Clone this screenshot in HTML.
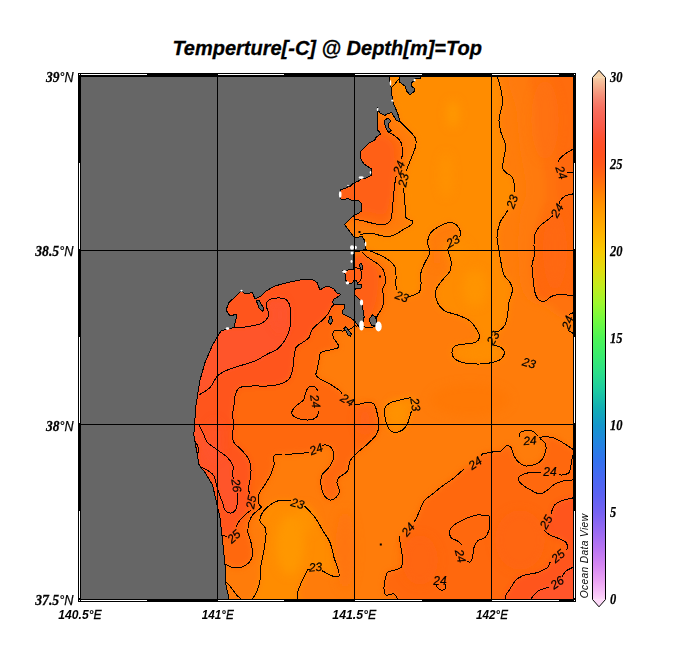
<!DOCTYPE html>
<html lang="en"><head><meta charset="utf-8"><title>Temperture[-C] @ Depth[m]=Top</title>
<style>
html,body{margin:0;padding:0;background:#fff;}
body{width:684px;height:660px;overflow:hidden;}
svg{display:block;}
.ss{font-family:"Liberation Sans",Arial,Helvetica,sans-serif;}
.sf{font-family:"Liberation Serif","Times New Roman",Times,serif;}
.bi{font-weight:bold;font-style:italic;}
.it{font-style:italic;}
</style></head><body>
<svg width="684" height="660" viewBox="0 0 684 660">
<defs>
<clipPath id="mapclip"><rect x="81" y="77" width="492" height="522"/></clipPath>
<filter id="blur" x="-5%" y="-5%" width="110%" height="110%"><feGaussianBlur stdDeviation="3.2"/></filter>
<filter id="blob" x="-50%" y="-50%" width="200%" height="200%"><feGaussianBlur stdDeviation="5"/></filter>
<linearGradient id="cb" x1="0" y1="0" x2="0" y2="1">
<stop offset="0.0000" stop-color="#F6D2AA"/>
<stop offset="0.0067" stop-color="#F5C09C"/>
<stop offset="0.0167" stop-color="#F5AE8E"/>
<stop offset="0.0267" stop-color="#F59C82"/>
<stop offset="0.0367" stop-color="#F58C76"/>
<stop offset="0.0467" stop-color="#F67E6C"/>
<stop offset="0.0567" stop-color="#F77262"/>
<stop offset="0.0667" stop-color="#F86A5A"/>
<stop offset="0.0833" stop-color="#F96050"/>
<stop offset="0.1000" stop-color="#FB5842"/>
<stop offset="0.1167" stop-color="#FE5230"/>
<stop offset="0.1333" stop-color="#FF5026"/>
<stop offset="0.1500" stop-color="#FF521E"/>
<stop offset="0.1667" stop-color="#FF581A"/>
<stop offset="0.1833" stop-color="#FF6214"/>
<stop offset="0.2000" stop-color="#FF6E0E"/>
<stop offset="0.2167" stop-color="#FF7C06"/>
<stop offset="0.2333" stop-color="#FF8A02"/>
<stop offset="0.2500" stop-color="#FF9600"/>
<stop offset="0.2667" stop-color="#FFA000"/>
<stop offset="0.3000" stop-color="#FEB400"/>
<stop offset="0.3333" stop-color="#F8CA02"/>
<stop offset="0.3667" stop-color="#E2DC0E"/>
<stop offset="0.4000" stop-color="#C2EC1E"/>
<stop offset="0.4333" stop-color="#9CF82E"/>
<stop offset="0.4667" stop-color="#70FA40"/>
<stop offset="0.5000" stop-color="#4CF456"/>
<stop offset="0.5333" stop-color="#38EC6E"/>
<stop offset="0.5667" stop-color="#2ADE8A"/>
<stop offset="0.6000" stop-color="#1CCAA2"/>
<stop offset="0.6333" stop-color="#12AEB4"/>
<stop offset="0.6667" stop-color="#1496CC"/>
<stop offset="0.7000" stop-color="#2284E0"/>
<stop offset="0.7333" stop-color="#3272EE"/>
<stop offset="0.7667" stop-color="#4868F2"/>
<stop offset="0.8000" stop-color="#5C62F2"/>
<stop offset="0.8333" stop-color="#7662F2"/>
<stop offset="0.8667" stop-color="#966AF2"/>
<stop offset="0.9000" stop-color="#B674F2"/>
<stop offset="0.9333" stop-color="#D486F2"/>
<stop offset="0.9667" stop-color="#ECA6F4"/>
<stop offset="0.9900" stop-color="#F8C6F8"/>
<stop offset="1.0000" stop-color="#FCD8F8"/>
</linearGradient>
</defs>
<rect width="684" height="660" fill="#fff"/>
<text class="ss bi" x="172.4" y="55" font-size="20" textLength="309.5" lengthAdjust="spacingAndGlyphs" fill="#000" stroke="#000" stroke-width="0.3">Temperture[-C] @ Depth[m]=Top</text>
<g clip-path="url(#mapclip)">
<rect x="78" y="73" width="498" height="529" fill="#FF7C0A"/>
<g filter="url(#blur)">
<path d="M389.0 70.0C407.1 68.8 479.4 68.8 497.5 70.0C515.6 71.2 496.9 73.7 497.5 77.0C498.1 80.3 500.2 85.8 501.0 90.0C501.8 94.2 502.8 97.5 502.5 102.5C502.2 107.5 499.2 115.0 499.0 120.0C498.8 125.0 499.9 128.3 501.0 132.5C502.1 136.7 505.0 140.8 505.5 145.0C506.0 149.2 504.5 153.8 504.0 157.5C503.5 161.2 502.2 165.0 502.5 167.5C502.8 170.0 504.3 170.8 506.0 172.5C507.7 174.2 511.1 175.0 512.5 177.5C513.9 180.0 514.5 183.3 514.5 187.5C514.5 191.7 514.0 198.1 512.5 202.5C511.0 206.9 507.6 210.7 505.5 214.0C503.4 217.3 501.4 218.6 500.0 222.5C498.6 226.4 497.2 232.9 497.0 237.5C496.8 242.1 498.3 245.8 499.0 250.0C499.7 254.2 500.2 258.3 501.0 262.5C501.8 266.7 502.5 271.7 504.0 275.0C505.5 278.3 508.6 280.0 510.0 282.5C511.4 285.0 512.7 286.7 512.5 290.0C512.3 293.3 509.8 298.3 509.0 302.5C508.2 306.7 508.2 311.2 507.5 315.0C506.8 318.8 506.4 322.3 505.0 325.0C503.6 327.7 500.8 327.7 499.0 331.0C497.2 334.3 493.7 342.2 494.0 345.0C494.3 347.8 499.2 346.2 501.0 347.5C502.8 348.8 504.5 350.6 504.5 352.5C504.5 354.4 503.0 357.3 501.0 359.0C499.0 360.7 496.0 361.7 492.5 362.5C489.0 363.3 484.6 363.9 480.0 364.0C475.4 364.1 469.2 363.8 465.0 363.0C460.8 362.2 457.2 360.8 455.0 359.0C452.8 357.2 452.0 354.7 452.0 352.5C452.0 350.3 452.8 347.4 455.0 346.0C457.2 344.6 461.7 344.6 465.0 344.0C468.3 343.4 472.6 343.6 475.0 342.5C477.4 341.4 479.1 339.4 479.5 337.5C479.9 335.6 479.1 333.8 477.5 331.0C475.9 328.2 473.3 323.7 470.0 321.0C466.7 318.3 461.7 316.7 457.5 315.0C453.3 313.3 448.3 313.1 445.0 311.0C441.7 308.9 439.0 306.0 437.5 302.5C436.0 299.0 435.2 293.8 436.0 290.0C436.8 286.2 440.2 283.2 442.5 280.0C444.8 276.8 448.6 274.2 450.0 271.0C451.4 267.8 451.3 264.3 451.0 261.0C450.7 257.7 447.7 254.3 448.0 251.0C448.3 247.7 450.8 243.8 453.0 241.0C455.2 238.2 460.2 236.5 461.0 234.0C461.8 231.5 459.3 227.9 457.5 226.0C455.7 224.1 452.9 222.5 450.0 222.5C447.1 222.5 443.2 224.3 440.0 226.0C436.8 227.7 433.1 229.8 431.0 232.5C428.9 235.2 427.7 239.2 427.5 242.5C427.3 245.8 430.4 249.2 430.0 252.5C429.6 255.8 426.5 259.2 425.0 262.5C423.5 265.8 421.7 268.8 421.0 272.5C420.3 276.2 421.3 281.7 421.0 285.0C420.7 288.3 420.7 290.7 419.0 292.5C417.3 294.3 413.8 295.3 411.0 296.0C408.2 296.7 404.3 297.6 402.0 296.5C399.7 295.4 398.0 291.2 397.0 289.5C396.0 287.8 396.2 288.4 396.0 286.0C395.8 283.6 396.2 278.2 396.0 275.0C395.8 271.8 395.9 269.2 395.0 267.0C394.1 264.8 392.5 263.3 390.7 261.7C388.9 260.1 386.5 258.6 384.4 257.4C382.3 256.1 380.1 255.2 378.0 254.2C375.9 253.2 373.7 252.4 371.7 251.6C369.7 250.8 368.6 250.1 365.8 249.5C363.0 248.9 356.8 250.2 355.0 248.0C353.2 245.8 354.2 238.2 355.0 236.0C355.8 233.8 358.3 235.4 360.0 235.0C361.7 234.6 363.2 233.6 365.3 233.3C367.4 233.0 370.2 233.0 372.7 233.3C375.1 233.7 377.5 234.9 380.0 235.4C382.5 235.9 385.1 236.6 387.6 236.5C390.1 236.4 392.5 235.7 395.0 234.6C397.5 233.5 399.8 231.6 402.5 230.0C405.2 228.4 409.3 226.5 411.0 225.0C412.7 223.5 413.3 222.2 412.5 221.0C411.7 219.8 407.2 220.2 406.0 217.5C404.8 214.8 405.3 209.2 405.0 205.0C404.7 200.8 404.1 196.7 404.0 192.5C403.9 188.3 403.9 184.2 404.5 180.0C405.1 175.8 406.2 171.7 407.5 167.5C408.8 163.3 411.1 158.8 412.5 155.0C413.9 151.2 415.6 147.9 416.0 145.0C416.4 142.1 416.4 140.2 415.0 137.5C413.6 134.8 410.0 131.7 407.5 129.0C405.0 126.3 401.9 125.0 399.8 121.3C397.7 117.6 396.3 111.7 395.0 107.0C393.7 102.3 393.0 98.0 392.0 93.0C391.0 88.0 389.5 80.8 389.0 77.0C388.5 73.2 370.9 71.2 389.0 70.0Z" fill="#FF8C02"/>
<path d="M411.0 397.5C408.5 396.8 403.5 399.1 400.0 400.0C396.5 400.9 392.6 401.5 390.0 403.0C387.4 404.5 385.2 406.2 384.5 409.0C383.8 411.8 384.8 416.7 385.5 420.0C386.2 423.3 387.4 426.9 389.0 429.0C390.6 431.1 392.8 432.3 395.0 432.5C397.2 432.7 400.4 431.4 402.5 430.0C404.6 428.6 406.2 426.7 407.5 424.0C408.8 421.3 409.2 417.3 410.5 414.0C411.8 410.7 414.9 406.8 415.0 404.0C415.1 401.2 413.5 398.2 411.0 397.5Z" fill="#FF8C02"/>
<path d="M252.5 606.0C245.0 604.8 251.7 601.7 252.5 599.0C253.3 596.3 256.2 593.2 257.5 590.0C258.8 586.8 259.4 584.2 260.0 580.0C260.6 575.8 260.3 570.0 261.0 565.0C261.7 560.0 263.2 555.0 264.0 550.0C264.8 545.0 265.8 538.8 266.0 535.0C266.2 531.2 266.0 529.8 265.0 527.5C264.0 525.2 260.4 523.5 260.0 521.0C259.6 518.5 260.8 515.2 262.5 512.5C264.2 509.8 267.5 506.9 270.0 505.0C272.5 503.1 274.6 501.8 277.5 501.0C280.4 500.2 284.2 500.2 287.5 500.5C290.8 500.8 293.9 501.8 297.0 503.0C300.1 504.2 303.0 505.1 306.0 507.5C309.0 509.9 312.2 513.8 315.0 517.5C317.8 521.2 320.0 525.8 322.5 530.0C325.0 534.2 328.1 537.9 330.0 542.5C331.9 547.1 332.8 553.3 334.0 557.5C335.2 561.7 336.7 564.4 337.5 567.5C338.3 570.6 339.8 574.6 339.0 576.0C338.2 577.4 335.2 576.8 332.5 576.0C329.8 575.2 325.4 572.5 322.5 571.0C319.6 569.5 317.5 567.2 315.0 567.0C312.5 566.8 309.6 567.8 307.5 570.0C305.4 572.2 304.2 576.2 302.5 580.0C300.8 583.8 298.3 588.2 297.5 592.5C296.7 596.8 305.0 603.8 297.5 606.0C290.0 608.2 260.0 607.2 252.5 606.0Z" fill="#FF8C02"/>
<path d="M512.0 70.0C522.7 63.3 568.7 31.7 580.0 70.0C591.3 108.3 586.7 260.8 580.0 300.0C573.3 339.2 549.7 306.7 540.0 305.0C530.3 303.3 525.7 299.2 522.0 290.0C518.3 280.8 518.3 262.5 518.0 250.0C517.7 237.5 518.7 225.0 520.0 215.0C521.3 205.0 526.0 200.8 526.0 190.0C526.0 179.2 521.7 163.3 520.0 150.0C518.3 136.7 517.3 123.3 516.0 110.0C514.7 96.7 501.3 76.7 512.0 70.0Z" fill="#FF7A08"/>
<path d="M532.0 70.0C539.3 63.3 572.0 31.7 580.0 70.0C588.0 108.3 585.8 261.7 580.0 300.0C574.2 338.3 552.7 303.3 545.0 300.0C537.3 296.7 536.0 290.0 534.0 280.0C532.0 270.0 532.0 250.8 533.0 240.0C534.0 229.2 538.0 223.3 540.0 215.0C542.0 206.7 545.0 200.8 545.0 190.0C545.0 179.2 541.5 163.3 540.0 150.0C538.5 136.7 537.3 123.3 536.0 110.0C534.7 96.7 524.7 76.7 532.0 70.0Z" fill="#FF720C"/>
<path d="M552.0 70.0C556.3 63.3 575.3 48.3 580.0 70.0C584.7 91.7 583.3 178.3 580.0 200.0C576.7 221.7 564.0 203.3 560.0 200.0C556.0 196.7 556.7 188.3 556.0 180.0C555.3 171.7 556.3 161.7 556.0 150.0C555.7 138.3 554.7 123.3 554.0 110.0C553.3 96.7 547.7 76.7 552.0 70.0Z" fill="#FF6C10"/>
<path d="M357.0 326.5C355.7 327.4 355.3 325.3 354.2 325.7C353.1 326.1 352.4 328.0 350.5 328.9C348.6 329.8 345.5 330.8 343.0 331.0C340.5 331.2 337.3 330.1 335.6 330.4C333.9 330.7 333.4 331.7 333.0 333.0C332.6 334.3 332.8 336.2 333.5 338.0C334.2 339.8 336.7 341.9 337.5 343.5C338.3 345.1 339.8 346.4 338.5 347.5C337.2 348.6 332.9 349.2 330.0 350.0C327.1 350.8 322.8 350.8 321.0 352.5C319.2 354.2 319.7 357.1 319.0 360.0C318.3 362.9 317.5 367.5 317.0 370.0C316.5 372.5 315.5 373.5 316.0 375.0C316.5 376.5 317.7 377.5 320.0 379.0C322.3 380.5 326.7 382.0 330.0 384.0C333.3 386.0 337.2 388.3 340.0 391.0C342.8 393.7 344.1 397.8 347.0 400.0C349.9 402.2 354.1 404.1 357.5 404.5C360.9 404.9 364.8 402.6 367.5 402.5C370.2 402.4 372.4 402.3 374.0 404.0C375.6 405.7 376.2 409.0 377.0 412.5C377.8 416.0 379.2 421.2 379.0 425.0C378.8 428.8 377.9 431.8 376.0 435.0C374.1 438.2 370.6 441.1 367.5 444.0C364.4 446.9 360.4 449.7 357.5 452.5C354.6 455.3 351.7 457.9 350.0 461.0C348.3 464.1 349.3 468.2 347.5 471.0C345.7 473.8 340.8 475.6 339.0 477.5C337.2 479.4 336.9 480.2 337.0 482.5C337.1 484.8 339.7 488.5 339.5 491.0C339.3 493.5 337.6 496.0 336.0 497.5C334.4 499.0 332.0 500.4 330.0 500.0C328.0 499.6 325.5 497.5 324.0 495.0C322.5 492.5 321.3 488.3 321.0 485.0C320.7 481.7 320.5 478.2 322.0 475.0C323.5 471.8 328.0 469.3 330.0 466.0C332.0 462.7 333.8 458.1 334.0 455.0C334.2 451.9 332.3 449.2 331.0 447.5C329.7 445.8 328.5 444.8 326.0 445.0C323.5 445.2 318.8 447.8 316.0 449.0C313.2 450.2 315.8 451.5 309.0 452.5C302.2 453.5 280.8 452.9 275.0 455.0C269.2 457.1 274.8 461.5 274.0 465.0C273.2 468.5 271.7 472.5 270.0 476.0C268.3 479.5 265.8 483.0 264.0 486.0C262.2 489.0 259.8 491.0 259.0 494.0C258.2 497.0 258.7 501.8 259.0 504.0C259.3 506.2 262.1 505.7 261.0 507.5C259.9 509.3 254.5 512.5 252.5 515.0C250.5 517.5 249.8 519.6 249.0 522.5C248.2 525.4 247.7 529.2 248.0 532.5C248.3 535.8 250.2 538.8 251.0 542.5C251.8 546.2 252.8 551.7 252.5 555.0C252.2 558.3 250.9 560.4 249.0 562.5C247.1 564.6 243.8 566.7 241.0 567.5C238.2 568.3 235.2 568.1 232.5 567.5C229.8 566.9 233.8 564.6 225.0 564.0C216.2 563.4 187.5 613.0 180.0 564.0C172.5 515.0 152.5 319.0 180.0 270.0C207.5 221.0 315.0 265.0 345.0 270.0C375.0 275.0 357.2 291.7 360.0 300.0C362.8 308.3 362.5 315.6 362.0 320.0C361.5 324.4 358.3 325.6 357.0 326.5Z" fill="#FF6710"/>
<path d="M388.6 132.3C390.3 135.0 392.9 134.3 395.0 136.0C397.1 137.7 399.8 139.8 401.0 142.5C402.2 145.2 402.4 149.8 402.5 152.5C402.6 155.2 402.0 156.5 401.5 159.0C401.0 161.5 400.2 164.7 399.5 167.5C398.8 170.3 397.6 173.9 397.0 176.0C396.4 178.1 396.3 176.8 396.0 180.0C395.7 183.2 395.6 190.0 395.0 195.0C394.4 200.0 393.1 206.2 392.5 210.0C391.9 213.8 391.9 215.9 391.3 218.0C390.7 220.1 390.1 221.6 388.6 222.7C387.1 223.8 385.0 224.7 382.3 224.8C379.6 224.9 376.1 224.0 372.7 223.3C369.3 222.6 365.0 221.3 362.0 220.6C359.0 219.9 358.4 219.3 354.7 219.0C351.0 218.7 343.3 223.8 340.0 219.0C336.7 214.2 332.5 201.5 335.0 190.0C337.5 178.5 348.3 160.8 355.0 150.0C361.7 139.2 370.0 130.0 375.0 125.0C380.0 120.0 382.7 118.8 385.0 120.0C387.3 121.2 386.9 129.6 388.6 132.3Z" fill="#FF6710"/>
<path d="M362.0 252.0C364.7 251.4 364.6 255.0 366.4 256.4C368.2 257.8 370.6 259.2 372.7 260.6C374.8 262.0 377.2 263.2 379.0 264.8C380.8 266.4 382.3 268.1 383.3 270.0C384.3 271.9 384.7 274.1 385.0 276.4C385.3 278.7 385.4 281.7 385.0 283.8C384.6 285.9 383.1 287.1 382.8 289.0C382.5 290.9 383.2 293.0 383.3 295.5C383.4 298.0 383.6 301.8 383.3 304.0C383.0 306.2 382.6 307.2 381.7 309.0C380.8 310.8 378.9 312.9 378.0 314.5C377.1 316.1 376.6 317.1 376.4 318.8C376.2 320.6 377.8 323.6 377.0 325.0C376.2 326.4 373.5 326.9 371.7 327.3C369.9 327.7 367.8 327.5 366.4 327.3C365.0 327.1 365.1 327.2 363.2 326.0C361.3 324.8 358.0 326.0 355.0 320.0C352.0 314.0 345.8 300.0 345.0 290.0C344.2 280.0 347.2 266.3 350.0 260.0C352.8 253.7 359.3 252.6 362.0 252.0Z" fill="#FF6710"/>
<path d="M572.5 149.5C570.0 150.3 567.1 152.4 565.0 154.0C562.9 155.6 561.0 157.3 560.0 159.0C559.0 160.7 558.8 161.8 559.0 164.0C559.2 166.2 560.2 170.8 561.5 172.5C562.8 174.2 565.2 173.8 567.0 174.0C568.8 174.2 570.3 173.6 572.5 173.5C574.7 173.4 578.8 177.6 580.0 173.5C581.2 169.4 581.2 153.0 580.0 149.0C578.8 145.0 575.0 148.7 572.5 149.5Z" fill="#FF6710"/>
<path d="M572.5 194.0C570.0 194.3 567.1 194.8 565.0 196.0C562.9 197.2 561.3 198.6 560.0 201.0C558.7 203.4 558.2 208.0 557.0 210.5C555.8 213.0 554.1 214.4 552.5 216.0C550.9 217.6 549.6 218.3 547.5 220.0C545.4 221.7 542.1 223.7 540.0 226.0C537.9 228.3 536.0 230.8 535.0 234.0C534.0 237.2 534.1 241.5 534.0 245.0C533.9 248.5 534.8 251.7 534.5 255.0C534.2 258.3 532.2 261.2 532.0 265.0C531.8 268.8 532.5 272.9 533.0 277.5C533.5 282.1 534.0 288.8 535.0 292.5C536.0 296.2 537.3 298.6 539.0 300.0C540.7 301.4 542.8 301.7 545.0 301.0C547.2 300.3 549.6 297.1 552.5 296.0C555.4 294.9 559.2 294.5 562.5 294.5C565.8 294.5 569.6 295.8 572.5 296.0C575.4 296.2 578.8 313.0 580.0 296.0C581.2 279.0 581.2 211.0 580.0 194.0C578.8 177.0 575.0 193.7 572.5 194.0Z" fill="#FF6710"/>
<path d="M397.5 606.0C367.1 604.8 398.1 601.0 397.5 599.0C396.9 597.0 395.9 594.7 394.0 594.0C392.1 593.3 387.7 595.8 386.0 595.0C384.3 594.2 384.2 591.5 384.0 589.0C383.8 586.5 384.4 582.8 385.0 580.0C385.6 577.2 385.8 574.2 387.5 572.5C389.2 570.8 392.8 570.8 395.0 570.0C397.2 569.2 399.8 569.3 401.0 567.5C402.2 565.7 402.5 562.3 402.5 559.0C402.5 555.7 401.5 550.8 401.0 547.5C400.5 544.2 398.3 542.0 399.5 539.0C400.7 536.0 405.2 532.8 408.0 529.5C410.8 526.2 414.0 522.2 416.0 519.0C418.0 515.8 418.7 513.0 420.0 510.0C421.3 507.0 421.9 503.7 424.0 501.0C426.1 498.3 429.4 496.5 432.5 494.0C435.6 491.5 439.2 488.5 442.5 486.0C445.8 483.5 448.9 481.8 452.5 479.0C456.1 476.2 460.2 471.7 464.0 469.0C467.8 466.3 471.9 465.5 475.0 463.0C478.1 460.5 479.6 455.8 482.5 454.0C485.4 452.2 489.4 452.5 492.5 452.0C495.6 451.5 498.8 452.0 501.0 451.0C503.2 450.0 504.3 446.6 506.0 446.0C507.7 445.4 509.7 445.8 511.0 447.5C512.3 449.2 512.7 453.5 514.0 456.0C515.3 458.5 517.0 460.8 519.0 462.5C521.0 464.2 523.2 465.8 526.0 466.0C528.8 466.2 533.2 465.2 536.0 464.0C538.8 462.8 540.8 461.5 542.5 459.0C544.2 456.5 545.6 451.7 546.0 449.0C546.4 446.3 546.0 444.9 545.0 443.0C544.0 441.1 538.8 438.4 540.0 437.5C541.2 436.6 548.8 436.7 552.5 437.5C556.2 438.3 559.2 440.6 562.5 442.5C565.8 444.4 569.6 447.9 572.5 449.0C575.4 450.1 578.8 422.8 580.0 449.0C581.2 475.2 610.4 579.8 580.0 606.0C549.6 632.2 427.9 607.2 397.5 606.0Z" fill="#FF6710"/>
<path d="M333.5 305.0C331.1 306.4 331.7 306.8 330.8 308.2C329.9 309.6 329.6 311.5 328.2 313.5C326.8 315.5 325.1 317.4 322.5 320.0C319.9 322.6 314.8 326.1 312.5 329.0C310.2 331.9 310.7 335.2 309.0 337.5C307.3 339.8 304.7 340.8 302.5 342.5C300.3 344.2 297.4 345.0 296.0 347.5C294.6 350.0 294.6 353.8 294.0 357.5C293.4 361.2 293.3 366.4 292.5 370.0C291.7 373.6 291.1 376.7 289.0 379.0C286.9 381.3 283.6 382.8 280.0 384.0C276.4 385.2 272.1 385.7 267.5 386.0C262.9 386.3 257.1 385.8 252.5 386.0C247.9 386.2 242.8 386.2 240.0 387.5C237.2 388.8 236.5 391.1 235.5 394.0C234.5 396.9 234.5 401.5 234.0 405.0C233.5 408.5 232.5 411.7 232.5 415.0C232.5 418.3 234.1 421.7 234.0 425.0C233.9 428.3 232.0 432.1 232.0 435.0C232.0 437.9 232.2 439.8 234.0 442.5C235.8 445.2 240.0 448.1 242.5 451.0C245.0 453.9 247.6 456.8 249.0 460.0C250.4 463.2 250.8 466.7 251.0 470.0C251.2 473.3 250.4 476.8 250.0 480.0C249.6 483.2 248.3 485.3 248.5 489.0C248.7 492.7 251.4 497.8 251.0 502.0C250.6 506.2 247.8 511.0 246.0 514.0C244.2 517.0 241.7 517.8 240.0 520.0C238.3 522.2 237.1 524.2 236.0 527.0C234.9 529.8 235.0 535.4 233.5 537.0C232.0 538.6 229.1 536.8 227.0 536.5C224.9 536.2 228.8 535.2 221.0 535.0C213.2 534.8 186.8 579.2 180.0 535.0C173.2 490.8 153.3 314.2 180.0 270.0C206.7 225.8 312.5 265.0 340.0 270.0C367.5 275.0 346.1 294.2 345.0 300.0C343.9 305.8 335.9 303.6 333.5 305.0Z" fill="#FF541E"/>
<path d="M572.5 498.0C569.6 498.4 565.4 499.4 562.5 500.5C559.6 501.6 556.8 502.8 555.0 504.5C553.2 506.2 552.6 508.9 552.0 510.5C551.4 512.1 552.5 512.1 551.5 514.0C550.5 515.9 547.1 519.2 546.0 522.0C544.9 524.8 544.3 528.8 545.0 531.0C545.7 533.2 547.5 533.7 550.0 535.0C552.5 536.3 557.3 537.8 560.0 539.0C562.7 540.2 564.8 541.1 566.0 542.5C567.2 543.9 567.5 546.2 567.5 547.5C567.5 548.8 567.6 548.6 566.0 550.0C564.4 551.4 560.7 553.9 558.0 556.0C555.3 558.1 551.8 560.6 550.0 562.5C548.2 564.4 549.6 565.8 547.5 567.5C545.4 569.2 541.2 571.2 537.5 572.5C533.8 573.8 528.6 573.8 525.0 575.0C521.4 576.2 518.5 577.7 516.0 580.0C513.5 582.3 511.7 586.5 510.0 589.0C508.3 591.5 506.7 592.2 506.0 595.0C505.3 597.8 493.7 604.2 506.0 606.0C518.3 607.8 567.7 624.0 580.0 606.0C592.3 588.0 581.2 516.0 580.0 498.0C578.8 480.0 575.4 497.6 572.5 498.0Z" fill="#FF541E"/>
<path d="M388.0 140.0C391.7 142.5 393.0 144.2 394.0 150.0C395.0 155.8 394.7 166.7 394.0 175.0C393.3 183.3 391.7 193.5 390.0 200.0C388.3 206.5 387.7 212.0 384.0 214.0C380.3 216.0 375.3 212.3 368.0 212.0C360.7 211.7 344.7 216.5 340.0 212.0C335.3 207.5 337.3 195.3 340.0 185.0C342.7 174.7 350.7 158.3 356.0 150.0C361.3 141.7 366.7 136.7 372.0 135.0C377.3 133.3 384.3 137.5 388.0 140.0Z" fill="#FF6014"/>
<path d="M360.0 256.0C363.7 256.7 369.0 260.8 372.0 264.0C375.0 267.2 377.2 269.8 378.0 275.0C378.8 280.2 377.8 289.2 377.0 295.0C376.2 300.8 374.8 306.2 373.0 310.0C371.2 313.8 369.0 316.7 366.0 318.0C363.0 319.3 358.5 322.7 355.0 318.0C351.5 313.3 345.8 299.7 345.0 290.0C344.2 280.3 347.5 265.7 350.0 260.0C352.5 254.3 356.3 255.3 360.0 256.0Z" fill="#FF6014"/>
<path d="M234.0 328.0C238.2 327.8 240.7 327.7 245.0 327.0C249.3 326.3 256.5 325.2 260.0 324.0C263.5 322.8 264.5 321.7 266.0 320.0C267.5 318.3 269.0 316.5 269.0 314.0C269.0 311.5 265.8 307.4 266.0 305.0C266.2 302.6 267.7 300.7 270.0 299.5C272.3 298.3 277.1 297.8 280.0 298.0C282.9 298.2 285.8 299.0 287.5 301.0C289.2 303.0 290.1 305.6 290.5 310.0C290.9 314.4 290.9 322.5 290.0 327.5C289.1 332.5 287.1 336.4 285.0 340.0C282.9 343.6 280.4 346.7 277.5 349.0C274.6 351.3 271.2 352.0 267.5 354.0C263.8 356.0 259.2 359.2 255.0 361.0C250.8 362.8 247.1 363.5 242.5 365.0C237.9 366.5 231.7 368.2 227.5 370.0C223.3 371.8 220.4 373.1 217.5 376.0C214.6 378.9 213.1 384.3 210.0 387.5C206.9 390.7 202.3 393.8 199.0 395.0C195.7 396.2 191.5 404.2 190.0 395.0C188.5 385.8 185.0 351.2 190.0 340.0C195.0 328.8 212.7 330.0 220.0 328.0C227.3 326.0 229.8 328.2 234.0 328.0Z" fill="#FF542B"/>
<path d="M199.0 425.0C201.3 426.7 202.6 432.1 204.0 435.0C205.4 437.9 205.2 440.0 207.5 442.5C209.8 445.0 214.2 447.5 217.5 450.0C220.8 452.5 224.9 454.8 227.5 457.5C230.1 460.2 232.2 463.1 233.0 466.0C233.8 468.9 231.9 471.8 232.5 475.0C233.1 478.2 235.7 481.3 236.5 485.5C237.3 489.7 237.6 496.1 237.5 500.0C237.4 503.9 237.1 506.8 236.0 509.0C234.9 511.2 232.8 512.8 231.0 513.0C229.2 513.2 226.4 511.8 225.0 510.0C223.6 508.2 223.8 506.0 222.5 502.5C221.2 499.0 218.9 493.4 217.5 489.0C216.1 484.6 215.8 479.2 214.0 476.0C212.2 472.8 209.3 471.7 207.0 470.0C204.7 468.3 201.6 468.2 200.0 466.0C198.4 463.8 197.8 460.0 197.5 457.0C197.2 454.0 198.9 450.7 198.5 448.0C198.1 445.3 196.4 442.2 195.0 441.0C193.6 439.8 190.8 443.7 190.0 441.0C189.2 438.3 188.5 427.7 190.0 425.0C191.5 422.3 196.7 423.3 199.0 425.0Z" fill="#FF542B"/>
<path d="M572.5 567.5C570.2 568.2 567.7 569.6 566.0 571.0C564.3 572.4 564.0 574.1 562.5 576.0C561.0 577.9 559.2 580.7 557.0 582.5C554.8 584.3 550.6 586.2 549.0 587.0C547.4 587.8 549.2 586.9 547.5 587.5C545.8 588.1 541.2 589.2 539.0 590.5C536.8 591.8 535.3 593.6 534.0 595.0C532.7 596.4 531.5 597.2 531.0 599.0C530.5 600.8 522.8 604.8 531.0 606.0C539.2 607.2 571.8 612.5 580.0 606.0C588.2 599.5 581.2 573.4 580.0 567.0C578.8 560.6 574.8 566.8 572.5 567.5Z" fill="#FF542B"/>
</g>
<g filter="url(#blob)">
<ellipse cx="453" cy="114" rx="6" ry="13" fill="#FF9A04" opacity="0.9"/>
<ellipse cx="446" cy="175" rx="6" ry="22" fill="#FF9606" opacity="0.6"/>
<ellipse cx="475" cy="288" rx="12" ry="18" fill="#FF9606" opacity="0.8"/>
<ellipse cx="455" cy="250" rx="14" ry="10" fill="#FF9204" opacity="0.5"/>
<ellipse cx="290" cy="545" rx="14" ry="30" fill="#FF9A06" opacity="0.8"/>
<ellipse cx="305" cy="520" rx="10" ry="14" fill="#FF9606" opacity="0.6"/>
<ellipse cx="397" cy="413" rx="8" ry="12" fill="#FF9406" opacity="0.8"/>
<ellipse cx="480" cy="352" rx="16" ry="6" fill="#FF9204" opacity="0.5"/>
<ellipse cx="365" cy="420" rx="8" ry="14" fill="#FF5E1C" opacity="0.55"/>
<ellipse cx="437" cy="258" rx="5" ry="8" fill="#FF7410" opacity="0.6"/>
<ellipse cx="545" cy="120" rx="14" ry="40" fill="#FF7210" opacity="0.5"/>
<ellipse cx="555" cy="250" rx="12" ry="40" fill="#FF6814" opacity="0.5"/>
<ellipse cx="470" cy="400" rx="40" ry="16" fill="#FF760C" opacity="0.5"/>
<ellipse cx="420" cy="560" rx="18" ry="25" fill="#FF6212" opacity="0.5"/>
<ellipse cx="520" cy="540" rx="25" ry="30" fill="#FF6212" opacity="0.5"/>
<ellipse cx="280" cy="315" rx="7" ry="16" fill="#FF5632" opacity="0.4"/>
<ellipse cx="345" cy="550" rx="10" ry="40" fill="#FF700C" opacity="0.6"/>
<ellipse cx="215" cy="440" rx="8" ry="20" fill="#FF5634" opacity="0.4"/>
</g>
<g fill="none" stroke="#000" stroke-width="1" stroke-linejoin="round" stroke-linecap="round" shape-rendering="crispEdges">
<path d="M234.0 328.0C235.8 327.8 240.7 327.7 245.0 327.0C249.3 326.3 256.5 325.2 260.0 324.0C263.5 322.8 264.5 321.7 266.0 320.0C267.5 318.3 269.0 316.5 269.0 314.0C269.0 311.5 265.8 307.4 266.0 305.0C266.2 302.6 267.7 300.7 270.0 299.5C272.3 298.3 277.1 297.8 280.0 298.0C282.9 298.2 285.8 299.0 287.5 301.0C289.2 303.0 290.1 305.6 290.5 310.0C290.9 314.4 290.9 322.5 290.0 327.5C289.1 332.5 287.1 336.4 285.0 340.0C282.9 343.6 280.4 346.7 277.5 349.0C274.6 351.3 271.2 352.0 267.5 354.0C263.8 356.0 259.2 359.2 255.0 361.0C250.8 362.8 247.1 363.5 242.5 365.0C237.9 366.5 231.7 368.2 227.5 370.0C223.3 371.8 220.4 373.1 217.5 376.0C214.6 378.9 213.1 384.3 210.0 387.5C206.9 390.7 200.8 393.8 199.0 395.0"/>
<path d="M333.5 305.0C333.1 305.5 331.7 306.8 330.8 308.2C329.9 309.6 329.6 311.5 328.2 313.5C326.8 315.5 325.1 317.4 322.5 320.0C319.9 322.6 314.8 326.1 312.5 329.0C310.2 331.9 310.7 335.2 309.0 337.5C307.3 339.8 304.7 340.8 302.5 342.5C300.3 344.2 297.4 345.0 296.0 347.5C294.6 350.0 294.6 353.8 294.0 357.5C293.4 361.2 293.3 366.4 292.5 370.0C291.7 373.6 291.1 376.7 289.0 379.0C286.9 381.3 283.6 382.8 280.0 384.0C276.4 385.2 272.1 385.7 267.5 386.0C262.9 386.3 257.1 385.8 252.5 386.0C247.9 386.2 242.8 386.2 240.0 387.5C237.2 388.8 236.5 391.1 235.5 394.0C234.5 396.9 234.5 401.5 234.0 405.0C233.5 408.5 232.5 411.7 232.5 415.0C232.5 418.3 234.1 421.7 234.0 425.0C233.9 428.3 232.0 432.1 232.0 435.0C232.0 437.9 232.2 439.8 234.0 442.5C235.8 445.2 240.0 448.1 242.5 451.0C245.0 453.9 247.6 456.8 249.0 460.0C250.4 463.2 250.8 466.7 251.0 470.0C251.2 473.3 250.4 476.8 250.0 480.0C249.6 483.2 248.5 486.7 248.5 489.0C248.5 491.3 249.8 493.2 250.0 494.0"/>
<path d="M251.0 510.0C250.2 510.7 247.8 512.3 246.0 514.0C244.2 515.7 241.7 517.8 240.0 520.0C238.3 522.2 236.7 525.8 236.0 527.0"/>
<path d="M227.0 536.5 L221.0 535.0"/>
<path d="M199.0 425.0C199.8 426.7 202.6 432.1 204.0 435.0C205.4 437.9 205.2 440.0 207.5 442.5C209.8 445.0 214.2 447.5 217.5 450.0C220.8 452.5 224.9 454.8 227.5 457.5C230.1 460.2 232.2 463.1 233.0 466.0C233.8 468.9 232.4 473.0 232.5 475.0C232.6 477.0 233.3 477.5 233.5 478.0"/>
<path d="M237.0 493.0C237.1 494.2 237.7 497.3 237.5 500.0C237.3 502.7 237.1 506.8 236.0 509.0C234.9 511.2 232.8 512.8 231.0 513.0C229.2 513.2 226.4 511.8 225.0 510.0C223.6 508.2 223.8 506.0 222.5 502.5C221.2 499.0 218.9 493.4 217.5 489.0C216.1 484.6 215.8 479.2 214.0 476.0C212.2 472.8 209.3 471.7 207.0 470.0C204.7 468.3 201.6 468.2 200.0 466.0C198.4 463.8 197.8 460.0 197.5 457.0C197.2 454.0 198.9 450.7 198.5 448.0C198.1 445.3 195.6 442.2 195.0 441.0"/>
<path d="M357.0 326.5C356.5 326.4 355.3 325.3 354.2 325.7C353.1 326.1 352.4 328.0 350.5 328.9C348.6 329.8 345.5 330.8 343.0 331.0C340.5 331.2 337.3 330.1 335.6 330.4C333.9 330.7 333.4 331.7 333.0 333.0C332.6 334.3 332.8 336.2 333.5 338.0C334.2 339.8 336.7 341.9 337.5 343.5C338.3 345.1 339.8 346.4 338.5 347.5C337.2 348.6 332.9 349.2 330.0 350.0C327.1 350.8 322.8 350.8 321.0 352.5C319.2 354.2 319.7 357.1 319.0 360.0C318.3 362.9 317.5 367.5 317.0 370.0C316.5 372.5 315.5 373.5 316.0 375.0C316.5 376.5 317.7 377.5 320.0 379.0C322.3 380.5 326.7 382.0 330.0 384.0C333.3 386.0 338.0 389.3 340.0 391.0C342.0 392.7 341.7 393.5 342.0 394.0"/>
<path d="M354.0 404.0C354.6 404.1 355.2 404.8 357.5 404.5C359.8 404.2 364.8 402.6 367.5 402.5C370.2 402.4 372.4 402.3 374.0 404.0C375.6 405.7 376.2 409.0 377.0 412.5C377.8 416.0 379.2 421.2 379.0 425.0C378.8 428.8 377.9 431.8 376.0 435.0C374.1 438.2 370.6 441.1 367.5 444.0C364.4 446.9 360.4 449.7 357.5 452.5C354.6 455.3 351.7 457.9 350.0 461.0C348.3 464.1 349.3 468.2 347.5 471.0C345.7 473.8 340.8 475.6 339.0 477.5C337.2 479.4 336.9 480.2 337.0 482.5C337.1 484.8 339.7 488.5 339.5 491.0C339.3 493.5 337.6 496.0 336.0 497.5C334.4 499.0 332.0 500.4 330.0 500.0C328.0 499.6 325.5 497.5 324.0 495.0C322.5 492.5 321.3 488.3 321.0 485.0C320.7 481.7 320.5 478.2 322.0 475.0C323.5 471.8 328.0 469.3 330.0 466.0C332.0 462.7 333.8 458.1 334.0 455.0C334.2 451.9 332.3 449.2 331.0 447.5C329.7 445.8 327.5 445.3 326.0 445.0C324.5 444.7 322.7 445.4 322.0 445.5"/>
<path d="M309.0 452.5C306.2 452.8 297.7 453.6 292.0 454.0C286.3 454.4 278.0 453.2 275.0 455.0C272.0 456.8 274.8 461.5 274.0 465.0C273.2 468.5 271.7 472.5 270.0 476.0C268.3 479.5 265.8 483.0 264.0 486.0C262.2 489.0 259.8 491.0 259.0 494.0C258.2 497.0 258.7 501.8 259.0 504.0C259.3 506.2 262.1 505.7 261.0 507.5C259.9 509.3 254.5 512.5 252.5 515.0C250.5 517.5 249.8 519.6 249.0 522.5C248.2 525.4 247.7 529.2 248.0 532.5C248.3 535.8 250.2 538.8 251.0 542.5C251.8 546.2 252.8 551.7 252.5 555.0C252.2 558.3 250.9 560.4 249.0 562.5C247.1 564.6 243.8 566.7 241.0 567.5C238.2 568.3 235.2 568.1 232.5 567.5C229.8 566.9 226.2 564.6 225.0 564.0"/>
<path d="M317.7 390.8C317.4 390.3 316.6 388.4 315.7 387.6C314.8 386.8 313.5 386.1 312.2 386.1C310.9 386.2 309.2 386.5 308.0 387.9C306.8 389.3 305.9 392.3 305.1 394.3C304.3 396.3 305.0 398.1 303.4 400.1C301.8 402.2 297.1 404.6 295.2 406.6C293.2 408.7 291.9 410.8 291.7 412.4C291.5 414.0 292.4 415.4 294.0 416.5C295.6 417.6 298.7 418.6 301.0 419.2C303.3 419.8 305.9 420.1 308.0 420.0C310.1 419.9 312.3 419.6 313.9 418.9C315.5 418.2 316.6 417.2 317.4 415.9C318.2 414.6 318.4 412.1 318.6 411.3"/>
<path d="M252.5 599.0C253.3 597.5 256.2 593.2 257.5 590.0C258.8 586.8 259.4 584.2 260.0 580.0C260.6 575.8 260.3 570.0 261.0 565.0C261.7 560.0 263.2 555.0 264.0 550.0C264.8 545.0 265.8 538.8 266.0 535.0C266.2 531.2 266.0 529.8 265.0 527.5C264.0 525.2 260.4 523.5 260.0 521.0C259.6 518.5 260.8 515.2 262.5 512.5C264.2 509.8 267.5 506.9 270.0 505.0C272.5 503.1 274.6 501.8 277.5 501.0C280.4 500.2 285.3 500.5 287.5 500.5C289.7 500.5 290.0 500.9 290.5 501.0"/>
<path d="M304.5 506.5C304.8 506.7 304.2 505.7 306.0 507.5C307.8 509.3 312.2 513.8 315.0 517.5C317.8 521.2 320.0 525.8 322.5 530.0C325.0 534.2 328.1 537.9 330.0 542.5C331.9 547.1 332.8 553.3 334.0 557.5C335.2 561.7 336.7 564.4 337.5 567.5C338.3 570.6 339.8 574.6 339.0 576.0C338.2 577.4 335.2 576.8 332.5 576.0C329.8 575.2 324.2 571.8 322.5 571.0"/>
<path d="M309.0 569.5C308.8 569.6 308.6 568.2 307.5 570.0C306.4 571.8 304.2 576.2 302.5 580.0C300.8 583.8 298.3 589.3 297.5 592.5C296.7 595.7 297.5 597.9 297.5 599.0"/>
<path d="M388.6 132.3C389.7 132.9 392.9 134.3 395.0 136.0C397.1 137.7 399.8 139.8 401.0 142.5C402.2 145.2 402.4 149.8 402.5 152.5C402.6 155.2 401.7 157.9 401.5 159.0"/>
<path d="M396.3 176.0C396.1 176.7 395.8 176.8 395.4 180.0C394.9 183.2 394.1 190.0 393.6 195.0C393.1 200.0 392.7 206.2 392.3 210.0C391.9 213.8 391.9 215.9 391.3 218.0C390.7 220.1 390.1 221.6 388.6 222.7C387.1 223.8 385.0 224.7 382.3 224.8C379.6 224.9 376.1 224.0 372.7 223.3C369.3 222.6 365.0 221.3 362.0 220.6C359.0 219.9 355.9 219.3 354.7 219.0"/>
<path d="M399.8 121.3C401.1 122.6 405.0 126.3 407.5 129.0C410.0 131.7 413.6 134.8 415.0 137.5C416.4 140.2 416.4 142.1 416.0 145.0C415.6 147.9 413.9 151.2 412.5 155.0C411.1 158.8 408.6 164.8 407.5 167.5C406.4 170.2 406.2 170.4 406.0 171.0"/>
<path d="M403.5 189.0C403.6 189.6 403.8 189.8 404.0 192.5C404.2 195.2 404.7 200.8 405.0 205.0C405.3 209.2 404.8 214.8 406.0 217.5C407.2 220.2 411.7 219.8 412.5 221.0C413.3 222.2 412.7 223.5 411.0 225.0C409.3 226.5 405.2 228.4 402.5 230.0C399.8 231.6 397.5 233.5 395.0 234.6C392.5 235.7 390.1 236.4 387.6 236.5C385.1 236.6 382.5 235.9 380.0 235.4C377.5 234.9 375.1 233.7 372.7 233.3C370.2 233.0 367.4 233.0 365.3 233.3C363.2 233.6 360.9 234.7 360.0 235.0"/>
<path d="M399.8 77.8C399.2 78.6 397.2 81.0 396.0 82.5C394.8 84.0 392.9 86.1 392.3 86.8"/>
<path d="M396.6 120.8C396.2 120.1 394.8 117.8 394.0 116.5C393.2 115.2 392.9 113.3 391.8 112.8C390.7 112.3 388.7 113.0 387.6 113.4C386.5 113.9 385.4 115.2 385.0 115.5"/>
<path d="M365.8 249.5C366.8 249.8 369.7 250.8 371.7 251.6C373.7 252.4 375.9 253.2 378.0 254.2C380.1 255.2 382.3 256.1 384.4 257.4C386.5 258.6 388.9 260.1 390.7 261.7C392.5 263.3 394.1 264.8 395.0 267.0C395.9 269.2 395.8 271.8 396.0 275.0C396.2 278.2 395.8 283.6 396.0 286.0C396.2 288.4 396.8 288.9 397.0 289.5"/>
<path d="M408.0 297.0C408.5 296.8 409.2 296.8 411.0 296.0C412.8 295.2 417.3 294.3 419.0 292.5C420.7 290.7 420.7 288.3 421.0 285.0C421.3 281.7 420.3 276.2 421.0 272.5C421.7 268.8 423.5 265.8 425.0 262.5C426.5 259.2 429.6 255.8 430.0 252.5C430.4 249.2 427.3 245.8 427.5 242.5C427.7 239.2 428.9 235.2 431.0 232.5C433.1 229.8 436.8 227.7 440.0 226.0C443.2 224.3 447.1 222.5 450.0 222.5C452.9 222.5 455.7 224.1 457.5 226.0C459.3 227.9 460.7 232.2 461.0 234.0C461.3 235.8 459.8 236.1 459.5 236.5"/>
<path d="M448.5 248.0C448.4 248.5 447.6 248.8 448.0 251.0C448.4 253.2 450.7 257.7 451.0 261.0C451.3 264.3 451.4 267.8 450.0 271.0C448.6 274.2 444.8 276.8 442.5 280.0C440.2 283.2 436.8 286.2 436.0 290.0C435.2 293.8 436.0 299.0 437.5 302.5C439.0 306.0 441.7 308.9 445.0 311.0C448.3 313.1 453.3 313.3 457.5 315.0C461.7 316.7 466.7 318.3 470.0 321.0C473.3 323.7 475.9 328.2 477.5 331.0C479.1 333.8 479.9 335.6 479.5 337.5C479.1 339.4 477.4 341.4 475.0 342.5C472.6 343.6 468.3 343.4 465.0 344.0C461.7 344.6 457.2 344.6 455.0 346.0C452.8 347.4 452.0 350.3 452.0 352.5C452.0 354.7 452.8 357.2 455.0 359.0C457.2 360.8 460.8 362.2 465.0 363.0C469.2 363.8 475.4 364.1 480.0 364.0C484.6 363.9 489.0 363.3 492.5 362.5C496.0 361.7 499.0 360.7 501.0 359.0C503.0 357.3 504.5 354.4 504.5 352.5C504.5 350.6 502.8 348.8 501.0 347.5C499.2 346.2 495.2 345.4 494.0 345.0"/>
<path d="M496.0 331.5C496.5 331.4 497.5 332.1 499.0 331.0C500.5 329.9 503.6 327.7 505.0 325.0C506.4 322.3 506.8 318.8 507.5 315.0C508.2 311.2 508.2 306.7 509.0 302.5C509.8 298.3 512.3 293.3 512.5 290.0C512.7 286.7 511.4 285.0 510.0 282.5C508.6 280.0 505.5 278.3 504.0 275.0C502.5 271.7 501.8 266.7 501.0 262.5C500.2 258.3 499.7 254.2 499.0 250.0C498.3 245.8 496.8 242.1 497.0 237.5C497.2 232.9 498.6 226.4 500.0 222.5C501.4 218.6 504.2 216.0 505.5 214.0C506.8 212.0 507.2 211.1 507.5 210.5"/>
<path d="M514.5 192.0C514.5 191.2 514.8 189.9 514.5 187.5C514.2 185.1 513.9 180.0 512.5 177.5C511.1 175.0 507.7 174.2 506.0 172.5C504.3 170.8 502.8 170.0 502.5 167.5C502.2 165.0 503.5 161.2 504.0 157.5C504.5 153.8 506.0 149.2 505.5 145.0C505.0 140.8 502.1 136.7 501.0 132.5C499.9 128.3 498.8 125.0 499.0 120.0C499.2 115.0 502.2 107.5 502.5 102.5C502.8 97.5 501.8 94.2 501.0 90.0C500.2 85.8 498.1 79.2 497.5 77.0"/>
<path d="M362.0 252.0C362.7 252.7 364.6 255.0 366.4 256.4C368.2 257.8 370.6 259.2 372.7 260.6C374.8 262.0 377.2 263.2 379.0 264.8C380.8 266.4 382.3 268.1 383.3 270.0C384.3 271.9 384.7 274.1 385.0 276.4C385.3 278.7 385.4 281.7 385.0 283.8C384.6 285.9 383.1 287.1 382.8 289.0C382.5 290.9 383.2 293.0 383.3 295.5C383.4 298.0 383.6 301.8 383.3 304.0C383.0 306.2 382.6 307.2 381.7 309.0C380.8 310.8 378.9 312.9 378.0 314.5C377.1 316.1 376.6 317.1 376.4 318.8C376.2 320.6 377.8 323.6 377.0 325.0C376.2 326.4 373.5 326.9 371.7 327.3C369.9 327.7 367.8 327.5 366.4 327.3C365.0 327.1 363.7 326.2 363.2 326.0"/>
<path d="M354.7 267.0C355.6 267.4 358.9 268.4 360.0 269.2C361.1 270.0 361.2 271.0 361.5 272.0C361.8 273.0 362.2 273.9 362.0 275.3C361.8 276.7 361.4 279.2 360.5 280.6C359.6 282.0 357.4 283.3 356.8 283.8"/>
<path d="M411.0 397.5C409.2 397.9 403.5 399.1 400.0 400.0C396.5 400.9 392.6 401.5 390.0 403.0C387.4 404.5 385.2 406.2 384.5 409.0C383.8 411.8 384.8 416.7 385.5 420.0C386.2 423.3 387.4 426.9 389.0 429.0C390.6 431.1 392.8 432.3 395.0 432.5C397.2 432.7 400.4 431.4 402.5 430.0C404.6 428.6 406.2 426.7 407.5 424.0C408.8 421.3 409.8 416.1 410.5 414.0C411.2 411.9 411.3 411.9 411.5 411.5"/>
<path d="M572.5 149.5C571.2 150.2 567.1 152.5 565.0 154.0C562.9 155.5 561.1 157.2 560.0 158.5C558.9 159.8 558.8 161.0 558.6 161.5"/>
<path d="M567.0 173.0 L572.5 172.3"/>
<path d="M572.5 194.0C571.2 194.3 567.1 194.8 565.0 196.0C562.9 197.2 561.0 199.8 560.0 201.0C559.0 202.2 559.2 203.1 559.0 203.5"/>
<path d="M552.5 216.0C551.7 216.7 549.6 218.3 547.5 220.0C545.4 221.7 542.1 223.7 540.0 226.0C537.9 228.3 536.0 230.8 535.0 234.0C534.0 237.2 534.1 241.5 534.0 245.0C533.9 248.5 534.8 251.7 534.5 255.0C534.2 258.3 532.2 261.2 532.0 265.0C531.8 268.8 532.5 272.9 533.0 277.5C533.5 282.1 534.0 288.8 535.0 292.5C536.0 296.2 537.3 298.6 539.0 300.0C540.7 301.4 542.8 301.7 545.0 301.0C547.2 300.3 549.6 297.1 552.5 296.0C555.4 294.9 559.2 294.5 562.5 294.5C565.8 294.5 570.8 295.8 572.5 296.0"/>
<path d="M572.5 313.0 L569.0 314.5"/>
<path d="M568.5 330.5 L572.5 333.0"/>
<path d="M397.5 599.0C396.9 598.2 395.9 594.7 394.0 594.0C392.1 593.3 387.7 595.8 386.0 595.0C384.3 594.2 384.2 591.5 384.0 589.0C383.8 586.5 384.4 582.8 385.0 580.0C385.6 577.2 385.8 574.2 387.5 572.5C389.2 570.8 392.8 570.8 395.0 570.0C397.2 569.2 399.8 569.3 401.0 567.5C402.2 565.7 402.5 562.3 402.5 559.0C402.5 555.7 401.5 550.8 401.0 547.5C400.5 544.2 399.7 540.9 399.5 539.0C399.3 537.1 399.9 536.5 400.0 536.0"/>
<path d="M414.0 522.0C414.3 521.5 415.0 521.0 416.0 519.0C417.0 517.0 418.7 513.0 420.0 510.0C421.3 507.0 421.9 503.7 424.0 501.0C426.1 498.3 429.4 496.5 432.5 494.0C435.6 491.5 439.2 488.5 442.5 486.0C445.8 483.5 448.9 481.8 452.5 479.0C456.1 476.2 462.1 470.7 464.0 469.0"/>
<path d="M481.0 456.0C481.2 455.7 480.6 454.7 482.5 454.0C484.4 453.3 489.4 452.5 492.5 452.0C495.6 451.5 498.8 452.0 501.0 451.0C503.2 450.0 504.3 446.6 506.0 446.0C507.7 445.4 509.7 445.8 511.0 447.5C512.3 449.2 512.7 453.5 514.0 456.0C515.3 458.5 517.0 460.8 519.0 462.5C521.0 464.2 523.2 465.8 526.0 466.0C528.8 466.2 533.2 465.2 536.0 464.0C538.8 462.8 540.8 461.5 542.5 459.0C544.2 456.5 545.6 451.7 546.0 449.0C546.4 446.3 546.0 444.9 545.0 443.0C544.0 441.1 538.8 438.4 540.0 437.5C541.2 436.6 548.8 436.7 552.5 437.5C556.2 438.3 559.2 440.6 562.5 442.5C565.8 444.4 570.8 447.9 572.5 449.0"/>
<path d="M519.3 437.0C519.3 436.4 519.1 434.4 519.6 433.5C520.1 432.6 520.8 432.0 522.0 431.5C523.2 431.0 525.3 430.6 527.0 430.5C528.7 430.4 530.6 430.5 532.0 431.0C533.4 431.5 534.6 432.7 535.5 433.5C536.4 434.3 537.2 435.6 537.6 436.0"/>
<path d="M572.5 456.0C572.2 457.5 571.6 462.2 571.0 465.0C570.4 467.8 570.4 470.8 569.0 472.5C567.6 474.2 564.1 474.7 562.5 475.0C560.9 475.3 560.0 474.6 559.5 474.5"/>
<path d="M541.0 472.5C538.8 472.6 531.0 472.4 527.5 473.0C524.0 473.6 521.4 474.7 520.0 476.0C518.6 477.3 518.3 479.3 519.0 481.0C519.7 482.7 521.8 484.3 524.0 486.0C526.2 487.7 529.8 489.7 532.5 491.0C535.2 492.3 537.5 494.2 540.0 494.0C542.5 493.8 545.0 491.7 547.5 490.0C550.0 488.3 552.1 485.6 555.0 484.0C557.9 482.4 562.1 481.2 565.0 480.5C567.9 479.8 571.2 480.1 572.5 480.0"/>
<path d="M572.5 498.0C570.8 498.4 565.4 499.4 562.5 500.5C559.6 501.6 556.8 502.8 555.0 504.5C553.2 506.2 552.6 508.9 552.0 510.5C551.4 512.1 551.6 513.4 551.5 514.0"/>
<path d="M545.0 530.0C545.0 530.2 544.2 530.2 545.0 531.0C545.8 531.8 547.5 533.7 550.0 535.0C552.5 536.3 557.3 537.8 560.0 539.0C562.7 540.2 564.8 541.1 566.0 542.5C567.2 543.9 567.5 546.2 567.5 547.5C567.5 548.8 566.2 549.6 566.0 550.0"/>
<path d="M551.0 562.0C550.8 562.1 550.6 561.6 550.0 562.5C549.4 563.4 549.6 565.8 547.5 567.5C545.4 569.2 541.2 571.2 537.5 572.5C533.8 573.8 528.6 573.8 525.0 575.0C521.4 576.2 518.5 577.7 516.0 580.0C513.5 582.3 511.7 586.5 510.0 589.0C508.3 591.5 506.7 593.3 506.0 595.0C505.3 596.7 506.0 598.3 506.0 599.0"/>
<path d="M572.5 567.5C571.4 568.1 567.7 569.6 566.0 571.0C564.3 572.4 563.1 575.2 562.5 576.0"/>
<path d="M549.0 587.0C548.8 587.1 549.2 586.9 547.5 587.5C545.8 588.1 541.2 589.2 539.0 590.5C536.8 591.8 535.3 593.6 534.0 595.0C532.7 596.4 531.5 598.3 531.0 599.0"/>
<path d="M489.0 516.0C487.1 515.8 481.5 514.5 477.5 515.0C473.5 515.5 468.9 517.3 465.0 519.0C461.1 520.7 456.6 523.0 454.0 525.0C451.4 527.0 450.0 528.9 449.5 531.0C449.0 533.1 449.7 535.8 451.0 537.5C452.3 539.2 455.7 539.8 457.5 541.0C459.3 542.2 461.2 544.3 462.0 545.0"/>
<path d="M467.0 561.0C467.5 561.2 469.1 562.6 470.0 562.0C470.9 561.4 471.8 559.9 472.5 557.5C473.2 555.1 473.2 550.2 474.0 547.5C474.8 544.8 475.7 542.7 477.5 541.0C479.3 539.3 483.1 539.3 485.0 537.5C486.9 535.7 488.2 532.8 489.0 530.0C489.8 527.2 489.5 523.3 489.5 521.0C489.5 518.7 489.1 516.8 489.0 516.0"/>
<path d="M224.8 581.3C225.3 581.8 226.9 582.9 228.0 584.0C229.1 585.1 229.9 586.1 231.4 588.0C232.9 589.9 235.4 593.8 237.0 595.5C238.6 597.2 240.3 598.0 241.0 598.5"/>
<path d="M436.0 585.0C436.3 585.5 437.2 587.2 438.0 588.0C438.8 588.8 439.8 589.8 441.0 590.0C442.2 590.2 444.3 590.0 445.0 589.0C445.7 588.0 445.0 584.8 445.0 584.0"/>
</g>
<rect x="379.8" y="543.5" width="2" height="2" fill="#000"/>
<rect x="379.0" y="275.5" width="2" height="2" fill="#000"/>
<rect x="358.5" y="231.0" width="2" height="2" fill="#000"/>
<g fill="#666666" stroke="#000" stroke-width="1" stroke-linejoin="round" shape-rendering="crispEdges">
<polygon points="78.0,73.0 389.0,73.0 389.0,77.0 390.7,84.7 391.8,93.0 392.3,100.6 395.0,107.0 398.0,114.4 399.8,121.3 396.6,120.8 394.0,116.5 391.8,112.8 387.6,113.4 385.0,115.5 382.8,114.4 379.6,112.8 377.5,108.0 377.0,111.2 377.6,120.0 378.0,130.6 381.0,133.8 375.8,137.5 374.8,140.0 369.0,142.8 363.6,148.6 360.5,151.8 360.5,158.0 363.6,163.5 367.9,166.7 372.0,169.3 371.7,175.0 365.3,178.5 361.0,179.0 357.9,181.4 353.6,183.0 350.5,186.0 347.8,186.7 345.0,188.8 341.0,189.3 339.8,194.0 340.4,198.9 344.0,200.0 347.3,198.3 352.6,200.5 359.0,201.0 362.0,203.6 361.6,211.0 357.9,213.7 354.7,214.8 350.0,219.0 344.6,224.3 347.8,229.0 353.6,236.5 356.8,237.6 362.0,236.0 364.0,239.4 365.3,243.6 365.8,249.0 362.0,250.5 356.8,251.6 354.7,252.0 353.0,256.4 353.0,261.7 353.6,267.0 354.0,269.6 348.0,270.0 342.5,270.0 345.7,275.4 346.0,280.6 347.8,283.8 352.0,283.0 354.0,280.6 356.8,281.0 357.9,284.8 361.6,284.3 362.0,287.0 360.0,289.0 355.8,288.6 354.2,290.7 354.2,294.4 356.8,297.0 360.0,299.7 361.6,303.0 362.6,308.0 364.2,316.7 363.2,321.0 361.6,326.0 359.5,327.3 356.8,324.0 354.7,321.0 350.5,317.7 346.2,315.6 343.0,314.0 342.5,310.8 344.6,308.7 344.6,305.0 341.0,304.0 335.0,305.0 332.4,302.3 334.0,299.0 338.3,296.5 341.0,294.4 336.7,292.8 334.0,289.0 330.3,287.0 327.0,286.0 323.0,288.0 320.0,290.0 317.0,282.5 312.5,279.5 302.5,279.5 287.5,282.5 275.0,286.0 266.0,291.0 261.0,296.0 255.0,299.0 252.5,292.5 246.0,294.0 241.0,291.0 236.0,296.0 229.0,302.5 226.0,310.0 230.0,316.0 237.0,314.0 235.5,321.0 234.0,327.5 227.5,329.0 221.0,331.0 212.5,345.0 205.0,362.5 200.0,380.0 196.0,405.0 193.8,435.0 196.0,447.5 199.0,465.0 205.0,472.5 212.5,485.0 216.0,500.0 220.0,517.5 222.5,540.0 225.0,565.0 226.0,585.0 229.0,599.0 229.0,603.0 78.0,603.0"/>
<polygon points="400.3,73.0 400.0,77.0 399.5,82.0 405.0,86.0 406.7,91.0 409.8,94.8 415.0,91.0 414.0,88.0 411.0,85.8 411.4,82.6 414.6,81.0 415.0,78.4 420.4,78.4 420.4,73.0"/>
<polygon points="383.9,120.8 388.0,118.0 390.7,120.8 388.5,124.0 388.3,127.0 391.3,130.9 388.6,132.3 386.0,128.2 384.8,124.0"/>
<polygon points="256.5,301.0 259.0,300.0 264.0,309.0 262.5,311.5 259.0,308.0"/>
<polygon points="329.5,316.0 331.5,316.0 332.4,321.0 330.5,324.5 328.7,323.0"/>
<polygon points="344.0,328.5 346.0,326.7 349.0,331.0 351.5,334.0 350.5,336.5 347.5,334.5 346.0,331.0"/>
<polygon points="370.0,318.0 372.5,315.0 375.5,317.0 377.0,322.0 376.0,326.0 372.0,325.5 369.8,322.0"/>
<polygon points="359.5,265.0 361.0,263.0 363.0,266.5 362.5,270.0 360.5,269.0"/>
</g>
<ellipse cx="378.5" cy="326.5" rx="3.2" ry="5.0" fill="#fff"/>
<ellipse cx="361.5" cy="325.5" rx="2.3" ry="5.0" fill="#fff"/>
<ellipse cx="361.5" cy="302.5" rx="1.6" ry="3.0" fill="#fff"/>
<ellipse cx="347.5" cy="282.8" rx="1.8" ry="1.6" fill="#fff"/>
<ellipse cx="344.5" cy="271.5" rx="2.2" ry="1.6" fill="#fff"/>
<ellipse cx="340.2" cy="194.5" rx="1.3" ry="3.2" fill="#fff"/>
<ellipse cx="361.2" cy="177.6" rx="2.6" ry="1.4" fill="#fff"/>
<ellipse cx="227.5" cy="328.6" rx="1.8" ry="1.4" fill="#fff"/>
<ellipse cx="241.5" cy="290.8" rx="1.2" ry="1.0" fill="#fff"/>
<ellipse cx="352" cy="247.5" rx="2.0" ry="2.2" fill="#fff"/>
<ellipse cx="355.5" cy="247.5" rx="1.4" ry="1.8" fill="#fff"/>
<ellipse cx="352" cy="253" rx="1.4" ry="1.6" fill="#fff"/>
<ellipse cx="351.5" cy="261.5" rx="1.0" ry="1.4" fill="#fff"/>
<ellipse cx="365.6" cy="244" rx="0.8" ry="2.4" fill="#fff"/>
<ellipse cx="377.7" cy="109.5" rx="0.9" ry="1.8" fill="#fff"/>
<ellipse cx="392.3" cy="100.6" rx="1.0" ry="1.2" fill="#fff"/>
<ellipse cx="390.5" cy="83" rx="0.8" ry="3.0" fill="#fff"/>
<ellipse cx="414.6" cy="80" rx="1.0" ry="1.6" fill="#fff"/>
<ellipse cx="348" cy="185.5" rx="0.8" ry="0.8" fill="#fff"/>
<ellipse cx="370.5" cy="172.5" rx="0.8" ry="1.4" fill="#fff"/>
<g class="ss it" font-size="12" fill="#000" stroke="#000" stroke-width="0.2" text-anchor="middle">
<text transform="translate(236.5,485.5) rotate(80)" x="0" y="4.2">26</text>
<text transform="translate(251,502) rotate(-80)" x="0" y="4.2">25</text>
<text transform="translate(233.8,536.3) rotate(-42)" x="0" y="4.2">25</text>
<text transform="translate(316,449) rotate(-20)" x="0" y="4.2">24</text>
<text transform="translate(297.5,503.5) rotate(15)" x="0" y="4.2">23</text>
<text transform="translate(315.5,567) rotate(-5)" x="0" y="4.2">23</text>
<text transform="translate(347.5,400) rotate(30)" x="0" y="4.2">24</text>
<text transform="translate(315.3,401.3) rotate(80)" x="0" y="4.2">24</text>
<text transform="translate(398.8,167.6) rotate(-68)" x="0" y="4.2">24</text>
<text transform="translate(403.4,180.2) rotate(-78)" x="0" y="4.2">23</text>
<text transform="translate(402,296.5) rotate(20)" x="0" y="4.2">23</text>
<text transform="translate(453,241) rotate(-30)" x="0" y="4.2">23</text>
<text transform="translate(493,338) rotate(-60)" x="0" y="4.2">23</text>
<text transform="translate(512,201.5) rotate(-70)" x="0" y="4.2">23</text>
<text transform="translate(529,363) rotate(15)" x="0" y="4.2">23</text>
<text transform="translate(415.5,404.5) rotate(80)" x="0" y="4.2">23</text>
<text transform="translate(561.5,172.5) rotate(70)" x="0" y="4.2">24</text>
<text transform="translate(557,210.5) rotate(-60)" x="0" y="4.2">24</text>
<text transform="translate(567.5,322.5) rotate(-70)" x="0" y="4.2">24</text>
<text transform="translate(475,463) rotate(-35)" x="0" y="4.2">24</text>
<text transform="translate(530,440.5) rotate(-5)" x="0" y="4.2">24</text>
<text transform="translate(550,472) rotate(0)" x="0" y="4.2">24</text>
<text transform="translate(408,529.5) rotate(-50)" x="0" y="4.2">24</text>
<text transform="translate(460.5,556) rotate(75)" x="0" y="4.2">24</text>
<text transform="translate(440,581) rotate(0)" x="0" y="4.2">24</text>
<text transform="translate(546,522) rotate(-60)" x="0" y="4.2">25</text>
<text transform="translate(558,556) rotate(-40)" x="0" y="4.2">25</text>
<text transform="translate(557,582.5) rotate(-35)" x="0" y="4.2">26</text>
</g>
<g fill="#000" shape-rendering="crispEdges">
<rect x="217" y="73" width="1" height="529"/>
<rect x="354" y="73" width="1" height="529"/>
<rect x="491" y="73" width="1" height="529"/>
<rect x="78" y="250" width="498" height="1"/>
<rect x="78" y="424" width="498" height="1"/>
</g>
</g>
<g shape-rendering="crispEdges">
<rect x="78" y="73" width="498" height="4" fill="#000"/>
<rect x="78" y="599" width="498" height="3" fill="#000"/>
<rect x="78" y="73" width="3" height="529" fill="#000"/>
<rect x="573" y="73" width="3" height="529" fill="#000"/>
<rect x="81" y="74" width="66" height="1" fill="#fff"/>
<rect x="81" y="600" width="66" height="1" fill="#fff"/>
<rect x="218" y="74" width="66" height="1" fill="#fff"/>
<rect x="218" y="600" width="66" height="1" fill="#fff"/>
<rect x="355" y="74" width="67" height="1" fill="#fff"/>
<rect x="355" y="600" width="67" height="1" fill="#fff"/>
<rect x="492" y="74" width="67" height="1" fill="#fff"/>
<rect x="492" y="600" width="67" height="1" fill="#fff"/>
<rect x="79" y="163" width="1" height="86" fill="#fff"/>
<rect x="574" y="163" width="1" height="86" fill="#fff"/>
<rect x="79" y="337" width="1" height="86" fill="#fff"/>
<rect x="574" y="337" width="1" height="86" fill="#fff"/>
<rect x="79" y="511" width="1" height="87" fill="#fff"/>
<rect x="574" y="511" width="1" height="87" fill="#fff"/>
<rect x="79" y="74" width="1" height="1" fill="#fff"/>
<rect x="574" y="74" width="1" height="1" fill="#fff"/>
<rect x="79" y="600" width="1" height="1" fill="#fff"/>
<rect x="574" y="600" width="1" height="1" fill="#fff"/>
</g>
<text x="46.0" y="82" font-size="15" fill="#000" textLength="27.5" lengthAdjust="spacingAndGlyphs"><tspan class="sf bi" stroke="#000" stroke-width="0.3">39</tspan><tspan class="ss it" font-size="14" stroke="#000" stroke-width="0.25">°N</tspan></text>
<text x="35.3" y="256.2" font-size="15" fill="#000" textLength="38.2" lengthAdjust="spacingAndGlyphs"><tspan class="sf bi" stroke="#000" stroke-width="0.3">38.5</tspan><tspan class="ss it" font-size="14" stroke="#000" stroke-width="0.25">°N</tspan></text>
<text x="46.0" y="431.2" font-size="15" fill="#000" textLength="27.5" lengthAdjust="spacingAndGlyphs"><tspan class="sf bi" stroke="#000" stroke-width="0.3">38</tspan><tspan class="ss it" font-size="14" stroke="#000" stroke-width="0.25">°N</tspan></text>
<text x="35.3" y="604.6" font-size="15" fill="#000" textLength="38.2" lengthAdjust="spacingAndGlyphs"><tspan class="sf bi" stroke="#000" stroke-width="0.3">37.5</tspan><tspan class="ss it" font-size="14" stroke="#000" stroke-width="0.25">°N</tspan></text>
<text x="80" y="619" text-anchor="middle" font-size="13.5" fill="#000" textLength="43.3" lengthAdjust="spacingAndGlyphs"><tspan class="ss bi">140.5</tspan><tspan class="ss it" stroke="#000" stroke-width="0.3">°E</tspan></text>
<text x="217.8" y="619" text-anchor="middle" font-size="13.5" fill="#000" textLength="32" lengthAdjust="spacingAndGlyphs"><tspan class="ss bi">141</tspan><tspan class="ss it" stroke="#000" stroke-width="0.3">°E</tspan></text>
<text x="354.3" y="619" text-anchor="middle" font-size="13.5" fill="#000" textLength="44" lengthAdjust="spacingAndGlyphs"><tspan class="ss bi">141.5</tspan><tspan class="ss it" stroke="#000" stroke-width="0.3">°E</tspan></text>
<text x="492" y="619" text-anchor="middle" font-size="13.5" fill="#000" textLength="32" lengthAdjust="spacingAndGlyphs"><tspan class="ss bi">142</tspan><tspan class="ss it" stroke="#000" stroke-width="0.3">°E</tspan></text>
<rect x="592.5" y="77.5" width="13.0" height="522.0" fill="url(#cb)"/>
<polygon points="592.5,77.8 599.0,70.3 605.5,77.8" fill="#F6D2AA"/>
<polygon points="592.5,599.2 599.0,606.8 605.5,599.2" fill="#FCD8F8"/>
<path d="M592.5 599.5 L592.5 77.5 L599.0 70.3 L605.5 77.5 L605.5 599.5 L599.0 606.8 Z" fill="none" stroke="#000" stroke-width="1"/>
<g class="sf bi" font-size="15" fill="#000" stroke="#000" stroke-width="0.25">
<text x="610" y="603.8" textLength="6.2" lengthAdjust="spacingAndGlyphs">0</text>
<text x="610" y="516.8" textLength="6.2" lengthAdjust="spacingAndGlyphs">5</text>
<text x="610" y="429.8" textLength="12.5" lengthAdjust="spacingAndGlyphs">10</text>
<text x="610" y="342.8" textLength="12.5" lengthAdjust="spacingAndGlyphs">15</text>
<text x="610" y="255.8" textLength="12.5" lengthAdjust="spacingAndGlyphs">20</text>
<text x="610" y="168.8" textLength="12.5" lengthAdjust="spacingAndGlyphs">25</text>
<text x="610" y="81.8" textLength="12.5" lengthAdjust="spacingAndGlyphs">30</text>
</g>
<text class="ss it" font-size="10.2" fill="#000" transform="translate(587.6,598.3) rotate(-90)" textLength="84.3" lengthAdjust="spacing">Ocean Data View</text>
</svg></body></html>
